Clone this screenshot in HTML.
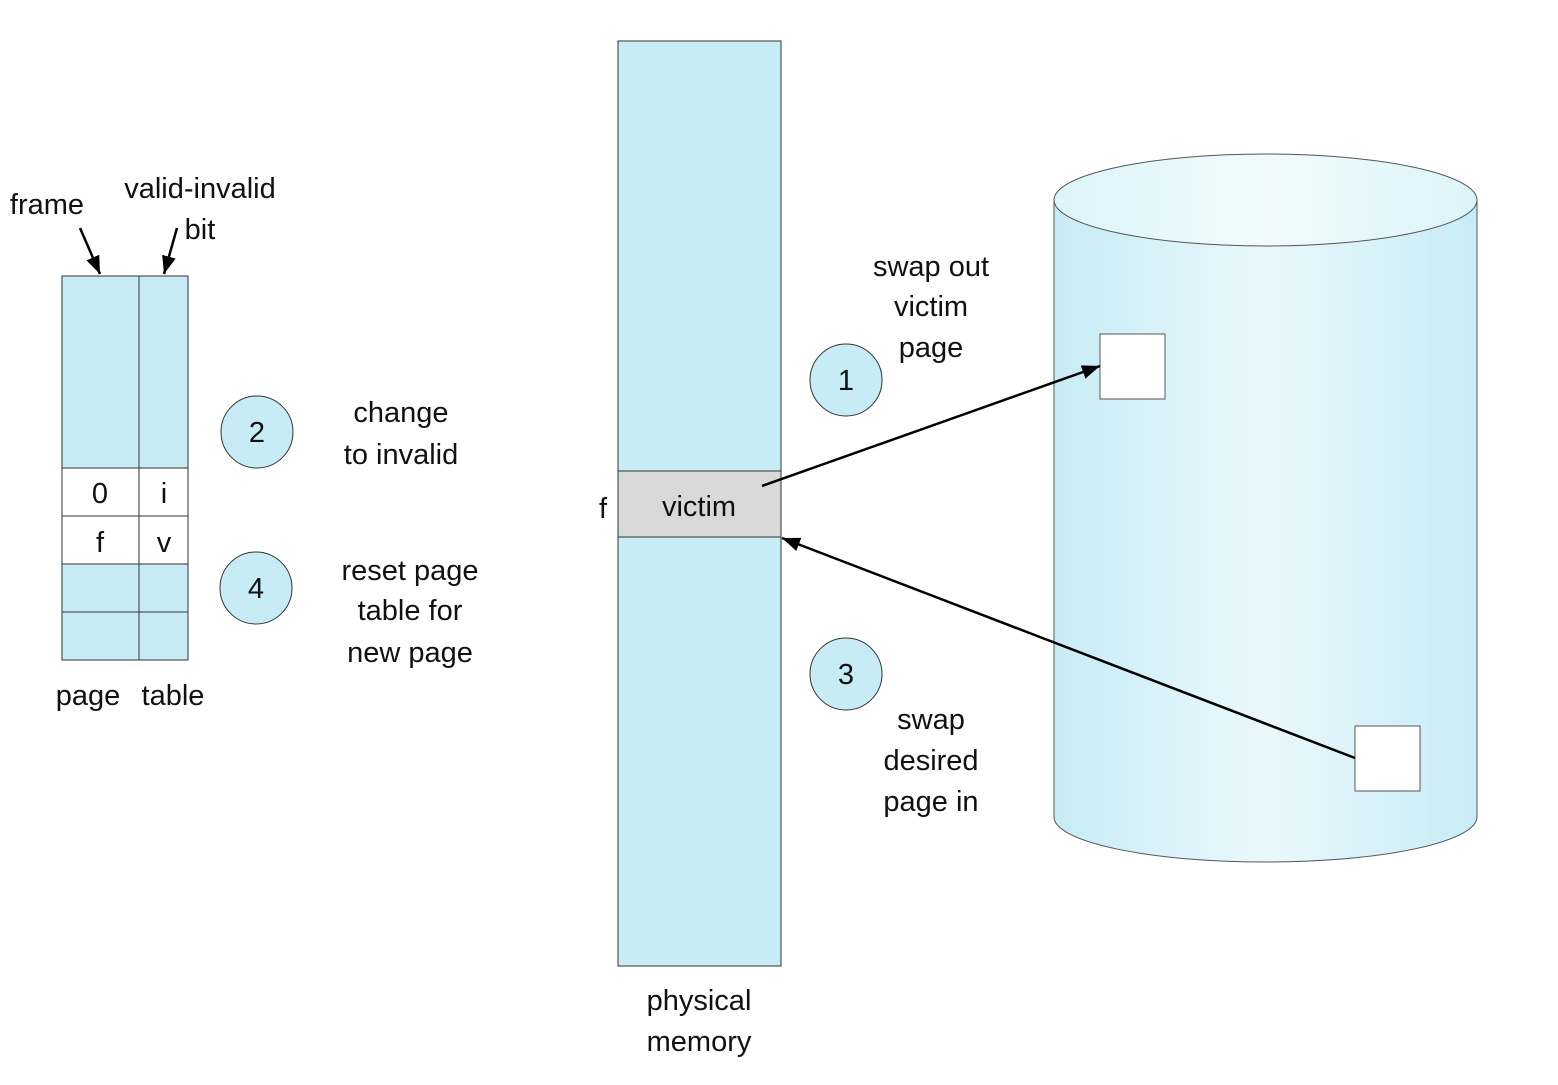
<!DOCTYPE html>
<html><head><meta charset="utf-8"><style>
html,body{margin:0;padding:0;background:#fff}
svg text{font-family:"Liberation Sans",sans-serif;font-size:29px;fill:#111}
</style></head><body>
<svg width="1558" height="1080" viewBox="0 0 1558 1080" xmlns="http://www.w3.org/2000/svg">
<defs>
<linearGradient id="g" x1="0" x2="1" y1="0" y2="0">
<stop offset="0" stop-color="#c7ecf5"/><stop offset="0.5" stop-color="#eaf8fc"/><stop offset="1" stop-color="#c7ecf5"/>
</linearGradient>
<linearGradient id="g2" x1="0" x2="1" y1="0" y2="0">
<stop offset="0" stop-color="#dcf4fa"/><stop offset="0.5" stop-color="#f1fbfd"/><stop offset="1" stop-color="#dcf4fa"/>
</linearGradient>
<marker id="ah2" markerWidth="18" markerHeight="14" refX="18" refY="7" orient="auto" markerUnits="userSpaceOnUse" viewBox="0 0 18 14">
<path d="M0,0 L18,7 L0,14 z" fill="#000"/></marker>
</defs>

<rect x="62" y="276" width="126" height="384" fill="#c7ecf5" stroke="#333" stroke-width="1"/>
<rect x="62" y="468" width="126" height="96" fill="#fff" stroke="#333" stroke-width="1"/>
<line x1="139" y1="276" x2="139" y2="660" stroke="#333"/>
<line x1="62" y1="516" x2="188" y2="516" stroke="#333"/>
<line x1="62" y1="612" x2="188" y2="612" stroke="#333"/>
<text x="100" y="503" text-anchor="middle">0</text>
<text x="164" y="503" text-anchor="middle">i</text>
<text x="100" y="552" text-anchor="middle">f</text>
<text x="164" y="552" text-anchor="middle">v</text>
<text x="47" y="214" text-anchor="middle">frame</text>
<text x="200" y="198" text-anchor="middle">valid-invalid</text>
<text x="200" y="239" text-anchor="middle">bit</text>
<line x1="80" y1="228" x2="100" y2="274" stroke="#000" stroke-width="2.5" marker-end="url(#ah2)"/>
<line x1="177" y1="228" x2="164" y2="274" stroke="#000" stroke-width="2.5" marker-end="url(#ah2)"/>
<text x="88" y="705" text-anchor="middle">page</text>
<text x="173" y="705" text-anchor="middle">table</text>

<g fill="#c7ecf5" stroke="#333" stroke-width="1">
<ellipse cx="257" cy="432" rx="36" ry="36"/>
<ellipse cx="256" cy="588" rx="36" ry="36"/>
<ellipse cx="846" cy="380" rx="36" ry="36"/>
<ellipse cx="846" cy="674" rx="36" ry="36"/>
</g>
<text x="257" y="442" text-anchor="middle">2</text>
<text x="256" y="598" text-anchor="middle">4</text>
<text x="846" y="390" text-anchor="middle">1</text>
<text x="846" y="684" text-anchor="middle">3</text>

<text x="401" y="422" text-anchor="middle">change</text>
<text x="401" y="464" text-anchor="middle">to invalid</text>
<text x="410" y="580" text-anchor="middle">reset page</text>
<text x="410" y="620" text-anchor="middle">table for</text>
<text x="410" y="662" text-anchor="middle">new page</text>

<rect x="618" y="41" width="163" height="925" fill="#c7ecf5" stroke="#333" stroke-width="1"/>
<rect x="618" y="471" width="163" height="66" fill="#d9d9d9" stroke="#333" stroke-width="1"/>
<text x="699" y="516" text-anchor="middle">victim</text>
<text x="603" y="518" text-anchor="middle">f</text>
<text x="699" y="1010" text-anchor="middle">physical</text>
<text x="699" y="1051" text-anchor="middle">memory</text>

<text x="931" y="276" text-anchor="middle">swap out</text>
<text x="931" y="316" text-anchor="middle">victim</text>
<text x="931" y="357" text-anchor="middle">page</text>
<text x="931" y="729" text-anchor="middle">swap</text>
<text x="931" y="770" text-anchor="middle">desired</text>
<text x="931" y="811" text-anchor="middle">page in</text>

<path d="M1054,200 L1054,817 A211.5,45 0 0 0 1477,817 L1477,200 Z" fill="url(#g)" stroke="#555" stroke-width="1"/>
<ellipse cx="1265.5" cy="200" rx="211.5" ry="46" fill="url(#g2)" stroke="#555" stroke-width="1"/>
<rect x="1100" y="334" width="65" height="65" fill="#fff" stroke="#555"/>
<rect x="1355" y="726" width="65" height="65" fill="#fff" stroke="#555"/>

<line x1="762" y1="486" x2="1100" y2="366" stroke="#000" stroke-width="2.5" marker-end="url(#ah2)"/>
<line x1="1355" y1="758" x2="782" y2="538" stroke="#000" stroke-width="2.5" marker-end="url(#ah2)"/>
</svg>
</body></html>
